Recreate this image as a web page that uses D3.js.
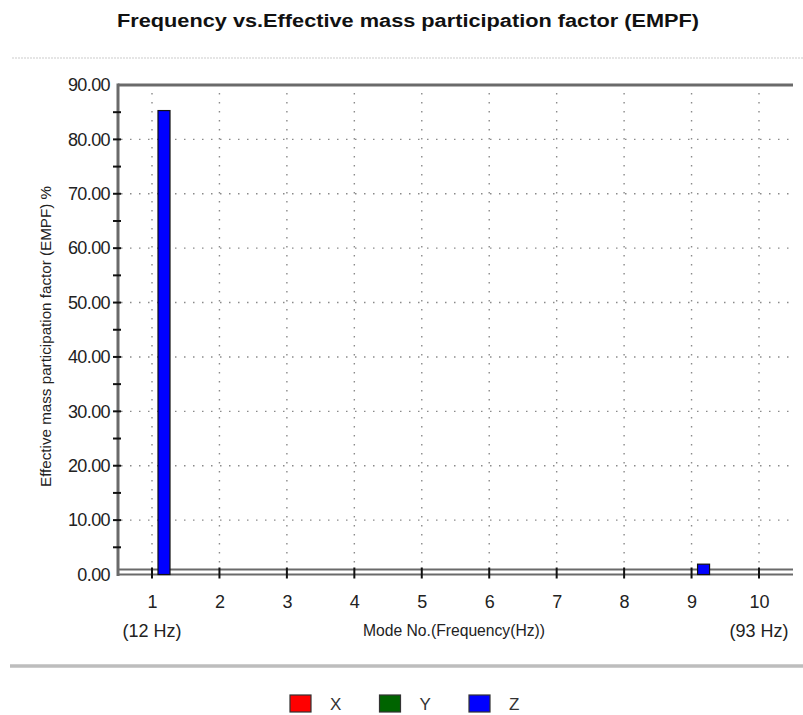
<!DOCTYPE html>
<html>
<head>
<meta charset="utf-8">
<script src="https://cdn.jsdelivr.net/npm/d3@7"></script>
<style>
  html, body { margin: 0; padding: 0; background: #fff; }
  svg { display: block; font-family: "Liberation Sans", Arial, sans-serif; }
  .tick-label { fill: #222; font-size: 18px; }
</style>
</head>
<body>
<svg id="chart" width="803" height="715"></svg>
<script>
// ---- data ----
const modes = [1, 2, 3, 4, 5, 6, 7, 8, 9, 10];
const freqLabels = ["(12 Hz)", "", "", "", "", "", "", "", "", "(93 Hz)"];
const seriesNames = ["X", "Y", "Z"];
const seriesColors = ["#ff0000", "#006400", "#0000ff"];
const xValues = [0, 0, 0, 0, 0, 0, 0, 0, 0, 0];
const yValues = [0, 0, 0, 0, 0, 0, 0, 0, 0, 0];
const zValues = [85.3, 0, 0, 0, 0, 0, 0, 0, 1.9, 0];
const yMajorTicks = [0, 10, 20, 30, 40, 50, 60, 70, 80, 90];
const yMinorTicks = [5, 15, 25, 35, 45, 55, 65, 75, 85];

const svg = d3.select("#chart");

const plot = { left: 118, right: 793, top: 85, bottom: 574.5 };

const x = d3.scalePoint().domain(modes).range([152, 759]);
const y = d3.scaleLinear().domain([0, 90]).range([plot.bottom, plot.top]);
const sub = d3.scaleBand().domain(seriesNames).range([-18, 18]);
const color = d3.scaleOrdinal().domain(seriesNames).range(seriesColors);

// title + separators
svg.append("text")
  .attr("x", 117).attr("y", 27)
  .attr("font-weight", "bold").attr("font-size", 18)
  .attr("textLength", 582).attr("lengthAdjust", "spacingAndGlyphs")
  .attr("fill", "#111")
  .text("Frequency vs.Effective mass participation factor (EMPF)");

svg.append("line")
  .attr("x1", 12).attr("x2", 803).attr("y1", 58).attr("y2", 58)
  .attr("stroke", "#ddd").attr("stroke-width", 1.5)
  .attr("stroke-dasharray", "2,1");

svg.append("line")
  .attr("x1", 10).attr("x2", 803).attr("y1", 666).attr("y2", 666)
  .attr("stroke", "#bdbdbd").attr("stroke-width", 3.5);

// grid (dotted)
const grid = svg.append("g").attr("stroke", "#8a8a8a").attr("stroke-width", 1.4)
  .attr("stroke-dasharray", "1.5,7.5");
grid.selectAll("line.h").data(yMajorTicks.filter(d => d > 0 && d < 90)).join("line")
  .attr("class", "h")
  .attr("x1", plot.left + 3).attr("x2", plot.right)
  .attr("y1", d => y(d)).attr("y2", d => y(d));
grid.selectAll("line.v").data(modes).join("line")
  .attr("class", "v")
  .attr("x1", d => x(d)).attr("x2", d => x(d))
  .attr("y1", plot.top + 8).attr("y2", plot.bottom - 6);

// frame lines: top, left, double bottom
const frame = svg.append("g").attr("stroke", "#6a6a6a").attr("fill", "none");
frame.append("line").attr("x1", plot.left).attr("x2", plot.right)
  .attr("y1", plot.top).attr("y2", plot.top).attr("stroke-width", 3);
frame.append("line").attr("x1", plot.left).attr("x2", plot.left)
  .attr("y1", plot.top - 1.5).attr("y2", plot.bottom + 1.5).attr("stroke-width", 3);
frame.append("line").attr("x1", plot.left).attr("x2", plot.right)
  .attr("y1", plot.bottom - 5).attr("y2", plot.bottom - 5).attr("stroke-width", 2);
frame.append("line").attr("x1", plot.left).attr("x2", plot.right)
  .attr("y1", plot.bottom).attr("y2", plot.bottom).attr("stroke-width", 2);

// x tick marks
svg.append("g").attr("stroke", "#111").attr("stroke-width", 2)
  .selectAll("line").data(modes).join("line")
  .attr("x1", d => x(d)).attr("x2", d => x(d))
  .attr("y1", plot.bottom - 7).attr("y2", plot.bottom + 4);

// bars (drawn over the baseline lines)
const rows = modes.map((m, i) => ({ mode: m, X: xValues[i], Y: yValues[i], Z: zValues[i] }));
const barData = rows.flatMap(r => seriesNames.map(s => ({ mode: r.mode, s, v: r[s] })))
  .filter(d => d.v > 0);
svg.append("g").selectAll("rect").data(barData).join("rect")
  .attr("x", d => x(d.mode) + sub(d.s))
  .attr("width", sub.bandwidth())
  .attr("y", d => y(d.v))
  .attr("height", d => y(0) - y(d.v))
  .attr("fill", d => color(d.s))
  .attr("stroke", "#111").attr("stroke-width", 1.2);

// y axis labels
const yAxis = d3.axisLeft(y).tickValues(yMajorTicks).tickFormat(d3.format(".2f"))
  .tickSize(0).tickPadding(8);
const gy = svg.append("g").attr("transform", `translate(${plot.left},0)`).call(yAxis);
gy.select(".domain").remove();
gy.selectAll("text").attr("class", "tick-label").attr("font-size", 18.5)
  .attr("letter-spacing", "-0.6").attr("font-family", null);

// y tick marks crossing the axis
svg.append("g").attr("stroke", "#111").attr("stroke-width", 2)
  .selectAll("line").data(yMajorTicks.concat(yMinorTicks).filter(d => d > 0 && d < 90)).join("line")
  .attr("x1", plot.left - 5).attr("x2", plot.left + 3)
  .attr("y1", d => y(d)).attr("y2", d => y(d));

// x axis labels
const xAxis = d3.axisBottom(x).tickSize(0).tickPadding(0);
const gx = svg.append("g").attr("transform", `translate(0,${plot.bottom})`).call(xAxis);
gx.select(".domain").remove();
gx.selectAll("text").attr("class", "tick-label").attr("font-size", 18.5)
  .attr("font-family", null).attr("dy", null).attr("y", 33);

svg.append("g").selectAll("text").data(modes.filter((m, i) => freqLabels[i])).join("text")
  .attr("class", "tick-label").attr("font-size", 18.5)
  .attr("x", d => x(d)).attr("y", 637).attr("text-anchor", "middle")
  .text(d => freqLabels[modes.indexOf(d)]);

// axis titles
svg.append("text")
  .attr("x", 363).attr("y", 636)
  .attr("font-size", 16).attr("textLength", 182).attr("lengthAdjust", "spacingAndGlyphs")
  .attr("fill", "#222")
  .text("Mode No.(Frequency(Hz))");

svg.append("text")
  .attr("transform", "translate(51,487) rotate(-90)")
  .attr("font-size", 15.5).attr("textLength", 301).attr("lengthAdjust", "spacingAndGlyphs")
  .attr("fill", "#222")
  .text("Effective mass participation factor (EMPF) %");

// legend
const legend = svg.append("g").selectAll("g").data(seriesNames).join("g")
  .attr("transform", (d, i) => `translate(${290 + i * 89.5},695)`);
legend.append("rect")
  .attr("width", 21).attr("height", 17)
  .attr("fill", d => color(d)).attr("stroke", "#333").attr("stroke-width", 1.2);
legend.append("text")
  .attr("x", 40).attr("y", 15).attr("font-size", 17).attr("fill", "#333")
  .text(d => d);
</script>
</body>
</html>
